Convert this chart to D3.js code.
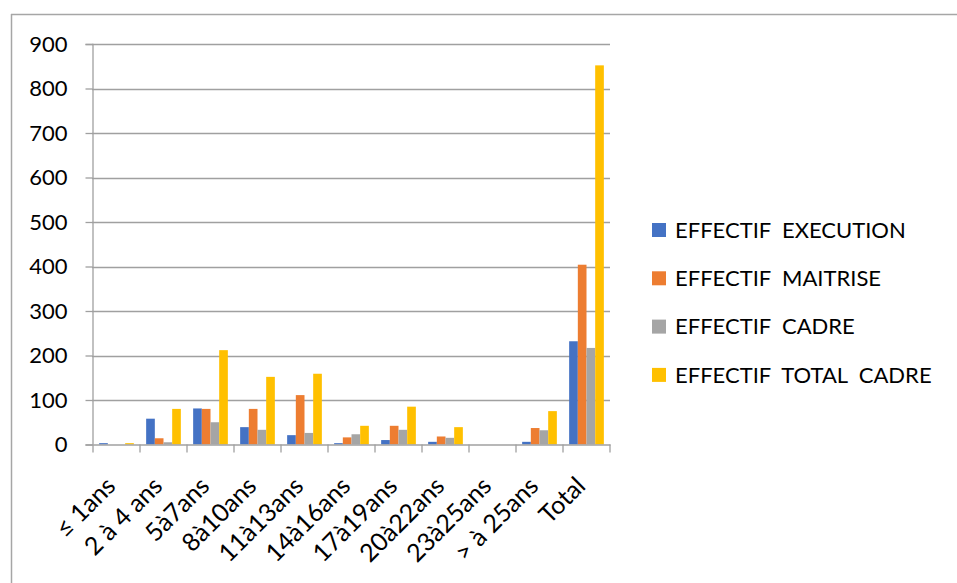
<!DOCTYPE html>
<html><head><meta charset="utf-8">
<script src="https://cdn.jsdelivr.net/npm/d3@7"></script>
<style>body{margin:0;background:#fff;}svg{display:block;}</style>
</head><body>
<svg id="chart" width="957" height="583"></svg>
<script>
const categories = ["≤ 1ans","2 à 4 ans","5à7ans","8à10ans","11à13ans","14à16ans","17à19ans","20à22ans","23à25ans","> à 25ans","Total"];
const seriesNames = ["EFFECTIF  EXECUTION","EFFECTIF  MAITRISE","EFFECTIF  CADRE","EFFECTIF  TOTAL  CADRE"];
const execution = [3,58,81,39,21,3,10,6,0,6,232];
const maitrise  = [0,14,80,80,111,16,42,18,0,37,404];
const cadre     = [0,5,50,33,26,23,33,15,0,32,217];
const totalCadre= [3,80,212,152,159,42,85,39,0,75,852];
const yTicks = [0,100,200,300,400,500,600,700,800,900];
const colors = ["#4472C4","#ED7D31","#A5A5A5","#FFC000"];
const seriesValues = [execution, maitrise, cadre, totalCadre];

const svg = d3.select("#chart");
const font = "Lato, 'Open Sans', sans-serif";
const x0 = 93, x1 = 610, yTop = 44, yBot = 444.5;

// outer border (top & left)
svg.append("line").attr("x1",11).attr("x2",957).attr("y1",14.5).attr("y2",14.5).attr("stroke","#A6A6A6").attr("stroke-width",1.5);
svg.append("line").attr("x1",11.5).attr("x2",11.5).attr("y1",14).attr("y2",583).attr("stroke","#A6A6A6").attr("stroke-width",1.5);

const x = d3.scaleBand().domain(categories).range([x0,x1]).paddingInner(0).paddingOuter(0);
const groupFrac = 34.7/47;
const xs = d3.scaleBand().domain(d3.range(4)).range([0, x.bandwidth()*groupFrac]).padding(0);
const y = d3.scaleLinear().domain([0,900]).range([yBot,yTop]);

// gridlines
svg.append("g").selectAll("line").data(yTicks.filter(d=>d>0)).join("line")
  .attr("x1",x0-1).attr("x2",x1).attr("y1",d=>Math.round(y(d))+0.5).attr("y2",d=>Math.round(y(d))+0.5)
  .attr("stroke","#A0A0A0").attr("stroke-width",1.3);

// y axis
const yAxis = svg.append("g").attr("transform",`translate(${x0-0.5},0)`)
  .call(d3.axisLeft(y).tickValues(yTicks).tickSize(7).tickPadding(18));
yAxis.select(".domain").attr("stroke","#A0A0A0").attr("stroke-width",1.3);
yAxis.selectAll(".tick line").attr("stroke","#A0A0A0").attr("stroke-width",1.3);
yAxis.selectAll("text").attr("font-family",font).attr("font-size",22).attr("fill","#000");

// bars
const groups = svg.append("g").selectAll("g").data(categories).join("g")
  .attr("transform",d=>`translate(${x(d) + x.bandwidth()*(1-groupFrac)/2},0)`);
groups.selectAll("rect").data((d,i)=>seriesValues.map((s,k)=>({k,v:s[i]}))).join("rect")
  .attr("x",d=>xs(d.k)).attr("width",xs.bandwidth())
  .attr("y",d=>y(d.v)).attr("height",d=>yBot-y(d.v))
  .attr("fill",d=>colors[d.k]);

// x axis
const xAxis = svg.append("g").attr("transform",`translate(0,${yBot})`)
  .call(d3.axisBottom(x).tickSize(0).tickPadding(0));
xAxis.select(".domain").attr("stroke","#A0A0A0").attr("stroke-width",1.3);
xAxis.selectAll(".tick text").remove();
const bounds = categories.map(c=>x(c)).concat([x1]);
svg.append("g").selectAll("line").data(bounds).join("line")
  .attr("x1",d=>d).attr("x2",d=>d).attr("y1",yBot).attr("y2",yBot+8)
  .attr("stroke","#A0A0A0").attr("stroke-width",1.3);
svg.append("g").selectAll("text").data(categories).join("text")
  .attr("transform",d=>`translate(${x(d)+x.bandwidth()/2+0.5},${yBot+43}) rotate(-45)`)
  .attr("text-anchor","end").attr("font-family",font).attr("font-size",25).attr("fill","#000")
  .text(d=>d);

// legend
const leg = svg.append("g").selectAll("g").data(seriesNames).join("g")
  .attr("transform",(d,i)=>`translate(652,${230 + i*48.3})`);
leg.append("rect").attr("x",0).attr("y",-7).attr("width",14).attr("height",14).attr("fill",(d,i)=>colors[i]);
leg.append("text").attr("x",23).attr("y",0).attr("dy","0.35em").attr("font-family",font).attr("font-size",22)
  .attr("fill","#000").style("white-space","pre").text(d=>d);
</script>
</body></html>
